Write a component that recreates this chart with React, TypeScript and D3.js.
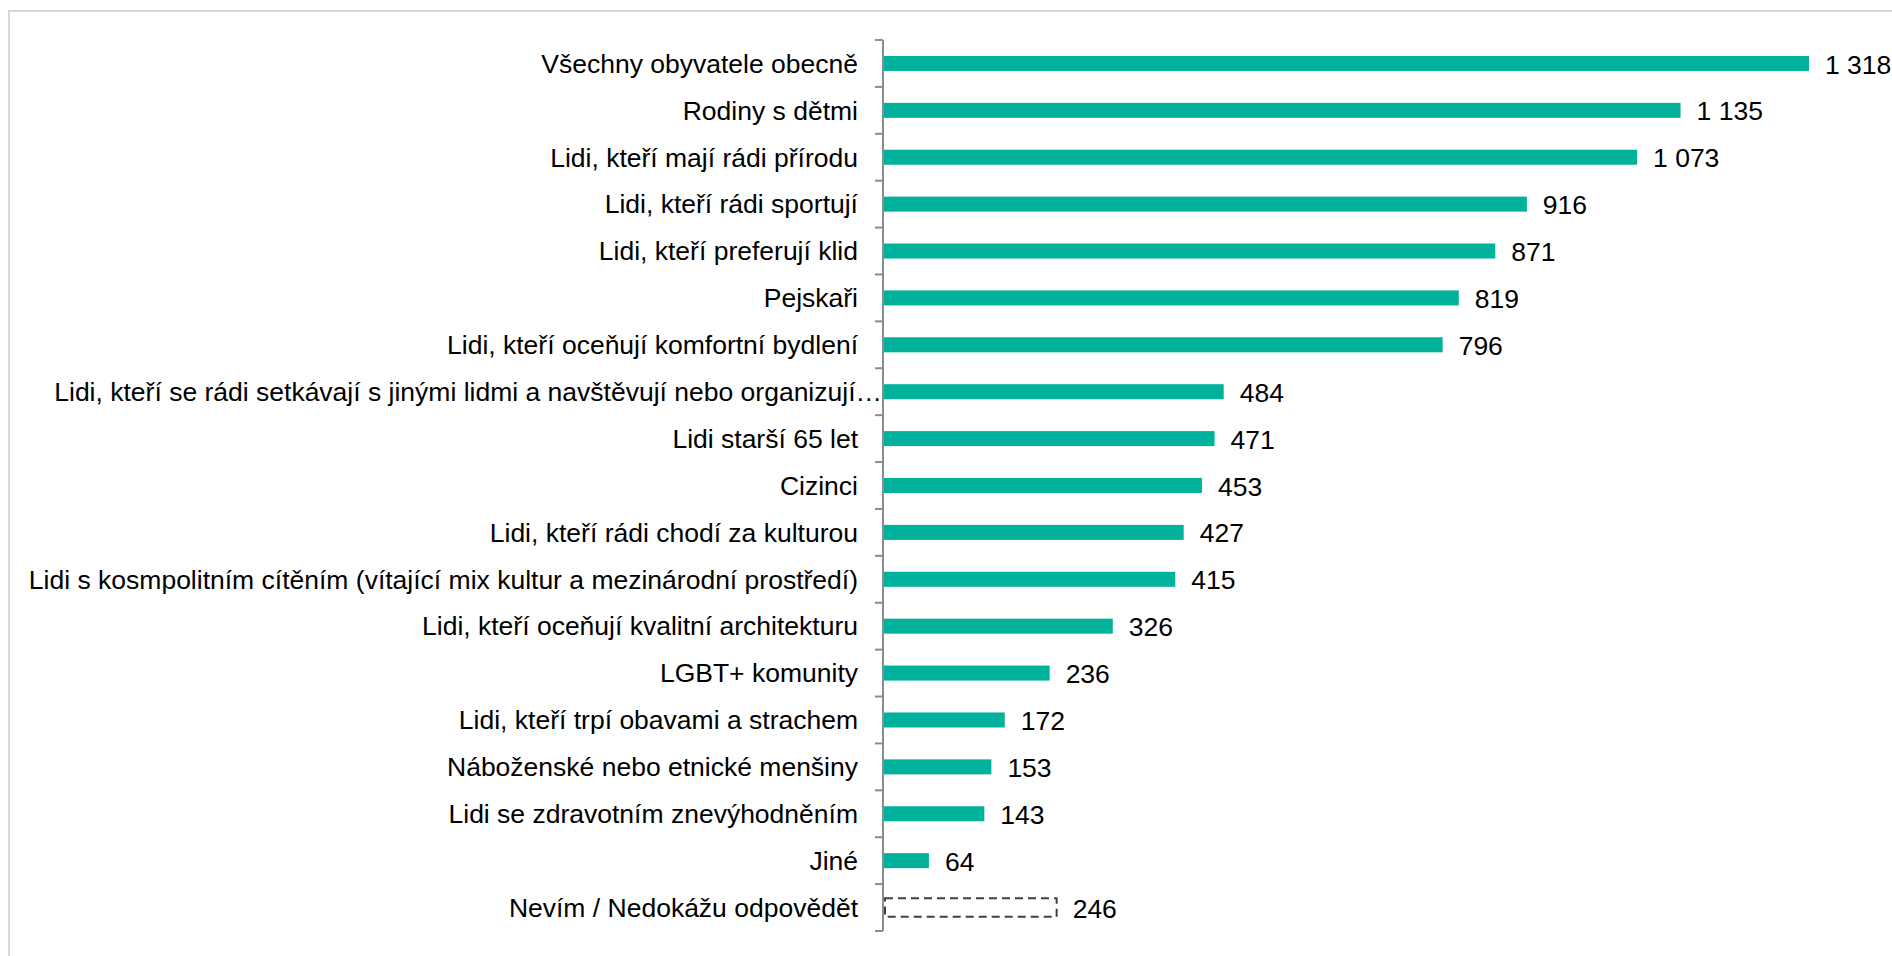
import React, { useEffect } from "react";
import * as d3 from "d3";

const categories = [
  "Všechny obyvatele obecně",
  "Rodiny s dětmi",
  "Lidi, kteří mají rádi přírodu",
  "Lidi, kteří rádi sportují",
  "Lidi, kteří preferují klid",
  "Pejskaři",
  "Lidi, kteří oceňují komfortní bydlení",
  "Lidi, kteří se rádi setkávají s jinými lidmi a navštěvují nebo organizují…",
  "Lidi starší 65 let",
  "Cizinci",
  "Lidi, kteří rádi chodí za kulturou",
  "Lidi s kosmpolitním cítěním (vítající mix kultur a mezinárodní prostředí)",
  "Lidi, kteří oceňují kvalitní architekturu",
  "LGBT+ komunity",
  "Lidi, kteří trpí obavami a strachem",
  "Náboženské nebo etnické menšiny",
  "Lidi se zdravotním znevýhodněním",
  "Jiné",
  "Nevím / Nedokážu odpovědět",
];

const values = [1318, 1135, 1073, 916, 871, 819, 796, 484, 471, 453, 427, 415, 326, 236, 172, 153, 143, 64, 246];

// the last category is drawn as an outlined (dashed) bar
const dashedCategories = ["Nevím / Nedokážu odpovědět"];

const width = 1892;
const height = 956;
const axisX = 883;

const fmt = d3.formatLocale({ decimal: ",", thousands: " ", grouping: [3], currency: ["", " Kč"] }).format(",d");

export default function App() {
  useEffect(() => {
    document.body.style.margin = "0";
  }, []);

  const data = categories.map((c, i) => ({ category: c, value: values[i] }));

  const y = d3.scaleBand().domain(categories).range([40, 931]).padding(0);
  const x = d3.scaleLinear().domain([0, 1318]).range([axisX + 1, 1809]);

  const barH = y.bandwidth() * 0.32;
  const font = "'Liberation Sans', Arial, sans-serif";
  const fs = 26.5;

  return (
    <svg width={width} height={height} style={{ display: "block", background: "#fff" }}>
      <rect x={9} y={11} width={2000} height={1000} fill="none" stroke="#d9d9d9" strokeWidth={2} />

      {data.map((d) => {
        const yc = (y(d.category) as number) + y.bandwidth() / 2;
        const dashed = dashedCategories.includes(d.category);
        const h = dashed ? 18.4 : barH;
        // truncated labels run right up to the axis
        const truncated = d.category.endsWith("…");
        return (
          <g key={d.category}>
            {dashed ? (
              <rect
                x={x(0) + 1}
                y={yc - h / 2}
                width={x(d.value) - x(0) - 1}
                height={h}
                fill="#fff"
                stroke="#404040"
                strokeWidth={2}
                strokeDasharray="8 5"
              />
            ) : (
              <rect x={x(0)} y={yc - h / 2} width={x(d.value) - x(0)} height={h} fill="#00b19b" />
            )}
            <text
              x={truncated ? axisX - 1 : axisX - 25}
              y={yc}
              dy="0.35em"
              textAnchor="end"
              fontFamily={font}
              fontSize={fs}
              fill="#000"
            >
              {d.category}
            </text>
            <text x={x(d.value) + 16} y={yc} dy="0.38em" fontFamily={font} fontSize={fs} fill="#000">
              {fmt(d.value)}
            </text>
          </g>
        );
      })}

      <g stroke="#8c8c8c" strokeWidth={2}>
        <line x1={axisX} x2={axisX} y1={40} y2={931} />
        {[...categories.map((c) => y(c) as number), 931].map((t, i) => (
          <line key={i} x1={axisX - 8} x2={axisX} y1={t} y2={t} />
        ))}
      </g>
    </svg>
  );
}
